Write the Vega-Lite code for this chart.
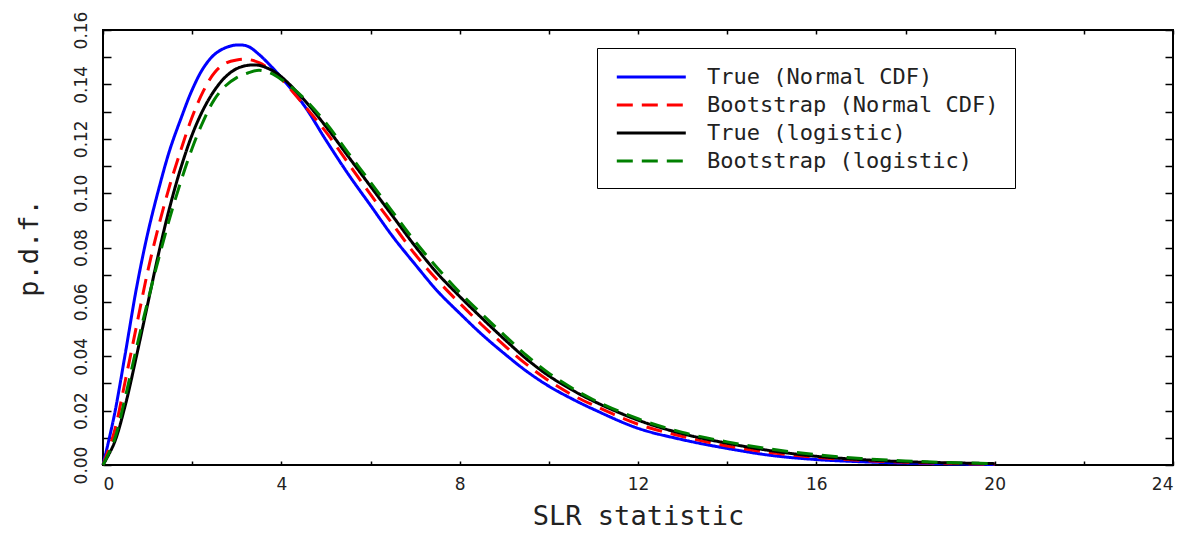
{
  "$schema": "https://vega.github.io/schema/vega-lite/v6.json",
  "width": 1070,
  "height": 435,
  "autosize": {"type": "none"},
  "padding": {"left": 103, "top": 30, "right": 20, "bottom": 69},
  "datasets": {
    "curves": [
      {"x":0,"y":0,"series":"True (Normal CDF)"},{"x":0.25,"y":0.018,"series":"True (Normal CDF)"},{"x":0.5,"y":0.041,"series":"True (Normal CDF)"},{"x":0.75,"y":0.065,"series":"True (Normal CDF)"},{"x":1,"y":0.085,"series":"True (Normal CDF)"},{"x":1.25,"y":0.1015,"series":"True (Normal CDF)"},{"x":1.5,"y":0.116,"series":"True (Normal CDF)"},{"x":1.75,"y":0.1275,"series":"True (Normal CDF)"},{"x":2,"y":0.138,"series":"True (Normal CDF)"},{"x":2.25,"y":0.146,"series":"True (Normal CDF)"},{"x":2.5,"y":0.151,"series":"True (Normal CDF)"},{"x":2.75,"y":0.1535,"series":"True (Normal CDF)"},{"x":3,"y":0.1545,"series":"True (Normal CDF)"},{"x":3.25,"y":0.154,"series":"True (Normal CDF)"},{"x":3.5,"y":0.151,"series":"True (Normal CDF)"},{"x":3.75,"y":0.147,"series":"True (Normal CDF)"},{"x":4,"y":0.1425,"series":"True (Normal CDF)"},{"x":4.5,"y":0.1325,"series":"True (Normal CDF)"},{"x":5,"y":0.1195,"series":"True (Normal CDF)"},{"x":5.5,"y":0.107,"series":"True (Normal CDF)"},{"x":6,"y":0.0955,"series":"True (Normal CDF)"},{"x":6.5,"y":0.084,"series":"True (Normal CDF)"},{"x":7,"y":0.0738,"series":"True (Normal CDF)"},{"x":7.5,"y":0.064,"series":"True (Normal CDF)"},{"x":8,"y":0.0558,"series":"True (Normal CDF)"},{"x":8.5,"y":0.048,"series":"True (Normal CDF)"},{"x":9,"y":0.041,"series":"True (Normal CDF)"},{"x":9.5,"y":0.0345,"series":"True (Normal CDF)"},{"x":10,"y":0.029,"series":"True (Normal CDF)"},{"x":10.5,"y":0.0245,"series":"True (Normal CDF)"},{"x":11,"y":0.0205,"series":"True (Normal CDF)"},{"x":12,"y":0.0135,"series":"True (Normal CDF)"},{"x":13,"y":0.0093,"series":"True (Normal CDF)"},{"x":14,"y":0.0061,"series":"True (Normal CDF)"},{"x":15,"y":0.0035,"series":"True (Normal CDF)"},{"x":16,"y":0.002,"series":"True (Normal CDF)"},{"x":17,"y":0.0012,"series":"True (Normal CDF)"},{"x":18,"y":0.0007,"series":"True (Normal CDF)"},{"x":19,"y":0.0004,"series":"True (Normal CDF)"},{"x":20,"y":0.0002,"series":"True (Normal CDF)"},

      {"x":0,"y":0,"series":"Bootstrap (Normal CDF)"},{"x":0.25,"y":0.012,"series":"Bootstrap (Normal CDF)"},{"x":0.5,"y":0.031,"series":"Bootstrap (Normal CDF)"},{"x":0.75,"y":0.051,"series":"Bootstrap (Normal CDF)"},{"x":1,"y":0.071,"series":"Bootstrap (Normal CDF)"},{"x":1.25,"y":0.088,"series":"Bootstrap (Normal CDF)"},{"x":1.5,"y":0.103,"series":"Bootstrap (Normal CDF)"},{"x":1.75,"y":0.116,"series":"Bootstrap (Normal CDF)"},{"x":2,"y":0.128,"series":"Bootstrap (Normal CDF)"},{"x":2.25,"y":0.1375,"series":"Bootstrap (Normal CDF)"},{"x":2.5,"y":0.1443,"series":"Bootstrap (Normal CDF)"},{"x":2.75,"y":0.1478,"series":"Bootstrap (Normal CDF)"},{"x":3,"y":0.149,"series":"Bootstrap (Normal CDF)"},{"x":3.25,"y":0.1492,"series":"Bootstrap (Normal CDF)"},{"x":3.5,"y":0.148,"series":"Bootstrap (Normal CDF)"},{"x":3.75,"y":0.1455,"series":"Bootstrap (Normal CDF)"},{"x":4,"y":0.142,"series":"Bootstrap (Normal CDF)"},{"x":4.5,"y":0.1325,"series":"Bootstrap (Normal CDF)"},{"x":5,"y":0.1225,"series":"Bootstrap (Normal CDF)"},{"x":5.5,"y":0.111,"series":"Bootstrap (Normal CDF)"},{"x":6,"y":0.0995,"series":"Bootstrap (Normal CDF)"},{"x":6.5,"y":0.0885,"series":"Bootstrap (Normal CDF)"},{"x":7,"y":0.0775,"series":"Bootstrap (Normal CDF)"},{"x":7.5,"y":0.068,"series":"Bootstrap (Normal CDF)"},{"x":8,"y":0.0595,"series":"Bootstrap (Normal CDF)"},{"x":8.5,"y":0.0515,"series":"Bootstrap (Normal CDF)"},{"x":9,"y":0.044,"series":"Bootstrap (Normal CDF)"},{"x":9.5,"y":0.037,"series":"Bootstrap (Normal CDF)"},{"x":10,"y":0.031,"series":"Bootstrap (Normal CDF)"},{"x":10.5,"y":0.026,"series":"Bootstrap (Normal CDF)"},{"x":11,"y":0.022,"series":"Bootstrap (Normal CDF)"},{"x":12,"y":0.015,"series":"Bootstrap (Normal CDF)"},{"x":13,"y":0.0105,"series":"Bootstrap (Normal CDF)"},{"x":14,"y":0.007,"series":"Bootstrap (Normal CDF)"},{"x":15,"y":0.0045,"series":"Bootstrap (Normal CDF)"},{"x":16,"y":0.0028,"series":"Bootstrap (Normal CDF)"},{"x":17,"y":0.0017,"series":"Bootstrap (Normal CDF)"},{"x":18,"y":0.001,"series":"Bootstrap (Normal CDF)"},{"x":19,"y":0.0006,"series":"Bootstrap (Normal CDF)"},{"x":20,"y":0.0003,"series":"Bootstrap (Normal CDF)"},

      {"x":0,"y":0,"series":"True (logistic)"},{"x":0.25,"y":0.008,"series":"True (logistic)"},{"x":0.5,"y":0.022,"series":"True (logistic)"},{"x":0.75,"y":0.04,"series":"True (logistic)"},{"x":1,"y":0.059,"series":"True (logistic)"},{"x":1.25,"y":0.078,"series":"True (logistic)"},{"x":1.5,"y":0.095,"series":"True (logistic)"},{"x":1.75,"y":0.1095,"series":"True (logistic)"},{"x":2,"y":0.1215,"series":"True (logistic)"},{"x":2.25,"y":0.1308,"series":"True (logistic)"},{"x":2.5,"y":0.1378,"series":"True (logistic)"},{"x":2.75,"y":0.1428,"series":"True (logistic)"},{"x":3,"y":0.1458,"series":"True (logistic)"},{"x":3.25,"y":0.147,"series":"True (logistic)"},{"x":3.5,"y":0.147,"series":"True (logistic)"},{"x":3.75,"y":0.1455,"series":"True (logistic)"},{"x":4,"y":0.1428,"series":"True (logistic)"},{"x":4.5,"y":0.1345,"series":"True (logistic)"},{"x":5,"y":0.1245,"series":"True (logistic)"},{"x":5.5,"y":0.1135,"series":"True (logistic)"},{"x":6,"y":0.1025,"series":"True (logistic)"},{"x":6.5,"y":0.0915,"series":"True (logistic)"},{"x":7,"y":0.0805,"series":"True (logistic)"},{"x":7.5,"y":0.0705,"series":"True (logistic)"},{"x":8,"y":0.062,"series":"True (logistic)"},{"x":8.5,"y":0.054,"series":"True (logistic)"},{"x":9,"y":0.0463,"series":"True (logistic)"},{"x":9.5,"y":0.039,"series":"True (logistic)"},{"x":10,"y":0.0328,"series":"True (logistic)"},{"x":10.5,"y":0.0278,"series":"True (logistic)"},{"x":11,"y":0.0235,"series":"True (logistic)"},{"x":12,"y":0.0165,"series":"True (logistic)"},{"x":13,"y":0.0115,"series":"True (logistic)"},{"x":14,"y":0.008,"series":"True (logistic)"},{"x":15,"y":0.0052,"series":"True (logistic)"},{"x":16,"y":0.0032,"series":"True (logistic)"},{"x":17,"y":0.002,"series":"True (logistic)"},{"x":18,"y":0.0012,"series":"True (logistic)"},{"x":19,"y":0.0008,"series":"True (logistic)"},{"x":20,"y":0.0005,"series":"True (logistic)"},

      {"x":0,"y":0,"series":"Bootstrap (logistic)"},{"x":0.25,"y":0.009,"series":"Bootstrap (logistic)"},{"x":0.5,"y":0.025,"series":"Bootstrap (logistic)"},{"x":0.75,"y":0.043,"series":"Bootstrap (logistic)"},{"x":1,"y":0.06,"series":"Bootstrap (logistic)"},{"x":1.25,"y":0.076,"series":"Bootstrap (logistic)"},{"x":1.5,"y":0.091,"series":"Bootstrap (logistic)"},{"x":1.75,"y":0.1045,"series":"Bootstrap (logistic)"},{"x":2,"y":0.1165,"series":"Bootstrap (logistic)"},{"x":2.25,"y":0.1265,"series":"Bootstrap (logistic)"},{"x":2.5,"y":0.1345,"series":"Bootstrap (logistic)"},{"x":2.75,"y":0.1395,"series":"Bootstrap (logistic)"},{"x":3,"y":0.1425,"series":"Bootstrap (logistic)"},{"x":3.25,"y":0.1442,"series":"Bootstrap (logistic)"},{"x":3.5,"y":0.1452,"series":"Bootstrap (logistic)"},{"x":3.75,"y":0.1442,"series":"Bootstrap (logistic)"},{"x":4,"y":0.1418,"series":"Bootstrap (logistic)"},{"x":4.5,"y":0.135,"series":"Bootstrap (logistic)"},{"x":5,"y":0.1258,"series":"Bootstrap (logistic)"},{"x":5.5,"y":0.1148,"series":"Bootstrap (logistic)"},{"x":6,"y":0.104,"series":"Bootstrap (logistic)"},{"x":6.5,"y":0.093,"series":"Bootstrap (logistic)"},{"x":7,"y":0.0822,"series":"Bootstrap (logistic)"},{"x":7.5,"y":0.0725,"series":"Bootstrap (logistic)"},{"x":8,"y":0.0635,"series":"Bootstrap (logistic)"},{"x":8.5,"y":0.0555,"series":"Bootstrap (logistic)"},{"x":9,"y":0.0478,"series":"Bootstrap (logistic)"},{"x":9.5,"y":0.0403,"series":"Bootstrap (logistic)"},{"x":10,"y":0.0338,"series":"Bootstrap (logistic)"},{"x":10.5,"y":0.0285,"series":"Bootstrap (logistic)"},{"x":11,"y":0.024,"series":"Bootstrap (logistic)"},{"x":12,"y":0.017,"series":"Bootstrap (logistic)"},{"x":13,"y":0.012,"series":"Bootstrap (logistic)"},{"x":14,"y":0.0085,"series":"Bootstrap (logistic)"},{"x":15,"y":0.0058,"series":"Bootstrap (logistic)"},{"x":16,"y":0.0038,"series":"Bootstrap (logistic)"},{"x":17,"y":0.0024,"series":"Bootstrap (logistic)"},{"x":18,"y":0.0015,"series":"Bootstrap (logistic)"},{"x":19,"y":0.0009,"series":"Bootstrap (logistic)"},{"x":20,"y":0.0005,"series":"Bootstrap (logistic)"}
    ]
  },
  "data": {"name": "curves"},
  "config": {
    "view": {"stroke": "#000000", "strokeWidth": 2},
    "font": "DejaVu Sans",
    "axis": {
      "domain": false,
      "grid": false,
      "tickColor": "#000000",
      "tickWidth": 1.5,
      "labelColor": "#222222",
      "titleColor": "#222222",
      "labelFont": "DejaVu Sans",
      "titleFont": "DejaVu Sans Mono",
      "titleFontWeight": "normal"
    },
    "legend": {
      "strokeColor": "#000000",
      "fillColor": "#ffffff"
    }
  },
  "layer": [
    {
      "mark": {"type": "line", "strokeWidth": 3, "interpolate": "catmull-rom"},
      "encoding": {
        "x": {
          "field": "x", "type": "quantitative",
          "scale": {"domain": [0, 24], "nice": false},
          "axis": {
            "orient": "bottom",
            "values": [0, 2, 4, 6, 8, 10, 12, 14, 16, 18, 20, 22, 24],
            "labelExpr": "datum.value % 4 == 0 ? datum.label : ''",
            "tickSize": -4,
            "labelPadding": 15,
            "labelFontSize": 17,
            "title": "SLR statistic",
            "titleFontSize": 27,
            "titlePadding": 11
          }
        },
        "y": {
          "field": "y", "type": "quantitative",
          "scale": {"domain": [0, 0.16], "nice": false},
          "axis": {
            "orient": "left",
            "values": [0, 0.01, 0.02, 0.03, 0.04, 0.05, 0.06, 0.07, 0.08, 0.09, 0.1, 0.11, 0.12, 0.13, 0.14, 0.15, 0.16],
            "labelExpr": "round(datum.value * 100) % 2 == 0 ? format(datum.value, '.2f') : ''",
            "tickSize": -8,
            "labelPadding": 21,
            "labelFontSize": 17,
            "labelAngle": -90,
            "labelAlign": "center",
            "labelBaseline": "bottom",
            "title": "p.d.f.",
            "titleFontSize": 27,
            "titlePadding": 29
          }
        },
        "color": {
          "field": "series", "type": "nominal",
          "scale": {
            "domain": ["True (Normal CDF)", "Bootstrap (Normal CDF)", "True (logistic)", "Bootstrap (logistic)"],
            "range": ["#0000ff", "#ff0000", "#000000", "#008000"]
          },
          "legend": {
            "title": null,
            "orient": "none",
            "legendX": 494,
            "legendY": 18,
            "padding": 16,
            "rowPadding": 4,
            "symbolType": "M-0.8,0H5.2",
            "symbolSize": 529,
            "symbolStrokeWidth": 3,
            "labelOffset": 68,
            "labelFont": "DejaVu Sans Mono",
            "labelFontSize": 22,
            "labelColor": "#222222",
            "labelLimit": 500
          }
        },
        "strokeDash": {
          "field": "series", "type": "nominal",
          "scale": {
            "domain": ["True (Normal CDF)", "Bootstrap (Normal CDF)", "True (logistic)", "Bootstrap (logistic)"],
            "range": [[1, 0], [16, 9], [1, 0], [16, 9]]
          },
          "legend": {
            "title": null,
            "orient": "none",
            "legendX": 494,
            "legendY": 18,
            "padding": 16,
            "rowPadding": 4,
            "symbolType": "M-0.8,0H5.2",
            "symbolSize": 529,
            "symbolStrokeWidth": 3,
            "labelOffset": 68,
            "labelFont": "DejaVu Sans Mono",
            "labelFontSize": 22,
            "labelColor": "#222222",
            "labelLimit": 500
          }
        }
      }
    },
    {
      "mark": {"type": "line", "opacity": 0},
      "encoding": {
        "x": {
          "field": "x", "type": "quantitative",
          "axis": {
            "orient": "top",
            "values": [0, 2, 4, 6, 8, 10, 12, 14, 16, 18, 20, 22, 24],
            "labels": false,
            "tickSize": -4,
            "title": null
          }
        },
        "y": {
          "field": "y", "type": "quantitative",
          "axis": {
            "orient": "right",
            "values": [0, 0.01, 0.02, 0.03, 0.04, 0.05, 0.06, 0.07, 0.08, 0.09, 0.1, 0.11, 0.12, 0.13, 0.14, 0.15, 0.16],
            "labels": false,
            "tickSize": -8,
            "title": null
          }
        }
      }
    }
  ]
}
